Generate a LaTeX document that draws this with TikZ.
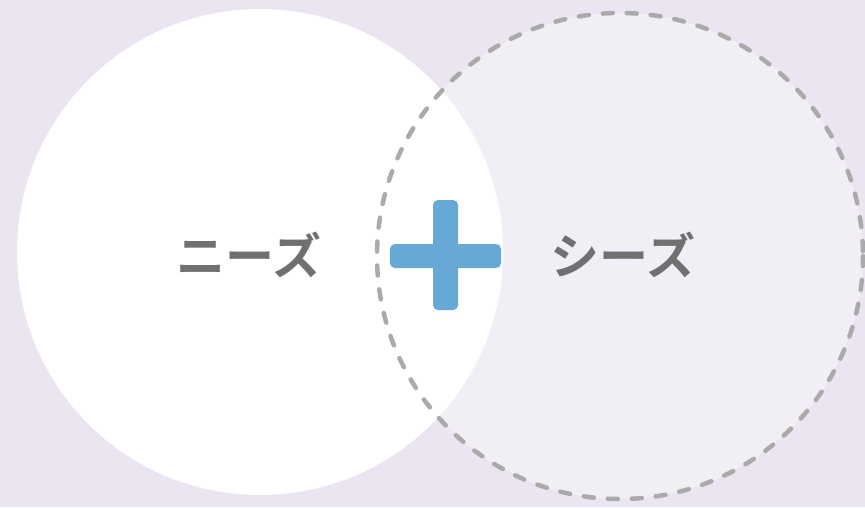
\documentclass[tikz,border=0pt]{standalone}
\usepackage{fontspec}
\newfontfamily\cjk{Noto Sans CJK JP Bold}
\definecolor{bgc}{RGB}{235,229,241}
\definecolor{seedfill}{RGB}{242,238,246}
\definecolor{dashc}{RGB}{170,170,170}
\definecolor{plusc}{RGB}{102,169,214}
\definecolor{txtc}{RGB}{112,112,112}
\tikzset{
  lbl/.style={font=\cjk\fontsize{49}{49}\selectfont, text=txtc, inner sep=0pt},
  plusbar/.style={fill=plusc, rounded corners=5pt, draw=none}
}
\begin{document}
\begin{tikzpicture}[x=1pt,y=-1pt]
\fill[bgc] (0,0) rectangle (865,507);
\useasboundingbox (0,0) rectangle (865,507);
\fill[seedfill] (620,256) circle (243);
\fill[white] (260,252) circle (243);
\draw[dashc, line width=4.5pt, line cap=round, dash pattern=on 10pt off 14pt] (620,256) circle (243);
\fill[plusbar] (390,244) rectangle (501,268);
\fill[plusbar] (433,200) rectangle (458,310);
\node[lbl] (needs) at (249,255) {ニーズ};
\node[lbl] (seeds) at (623,255) {シーズ};
\end{tikzpicture}
\end{document}
